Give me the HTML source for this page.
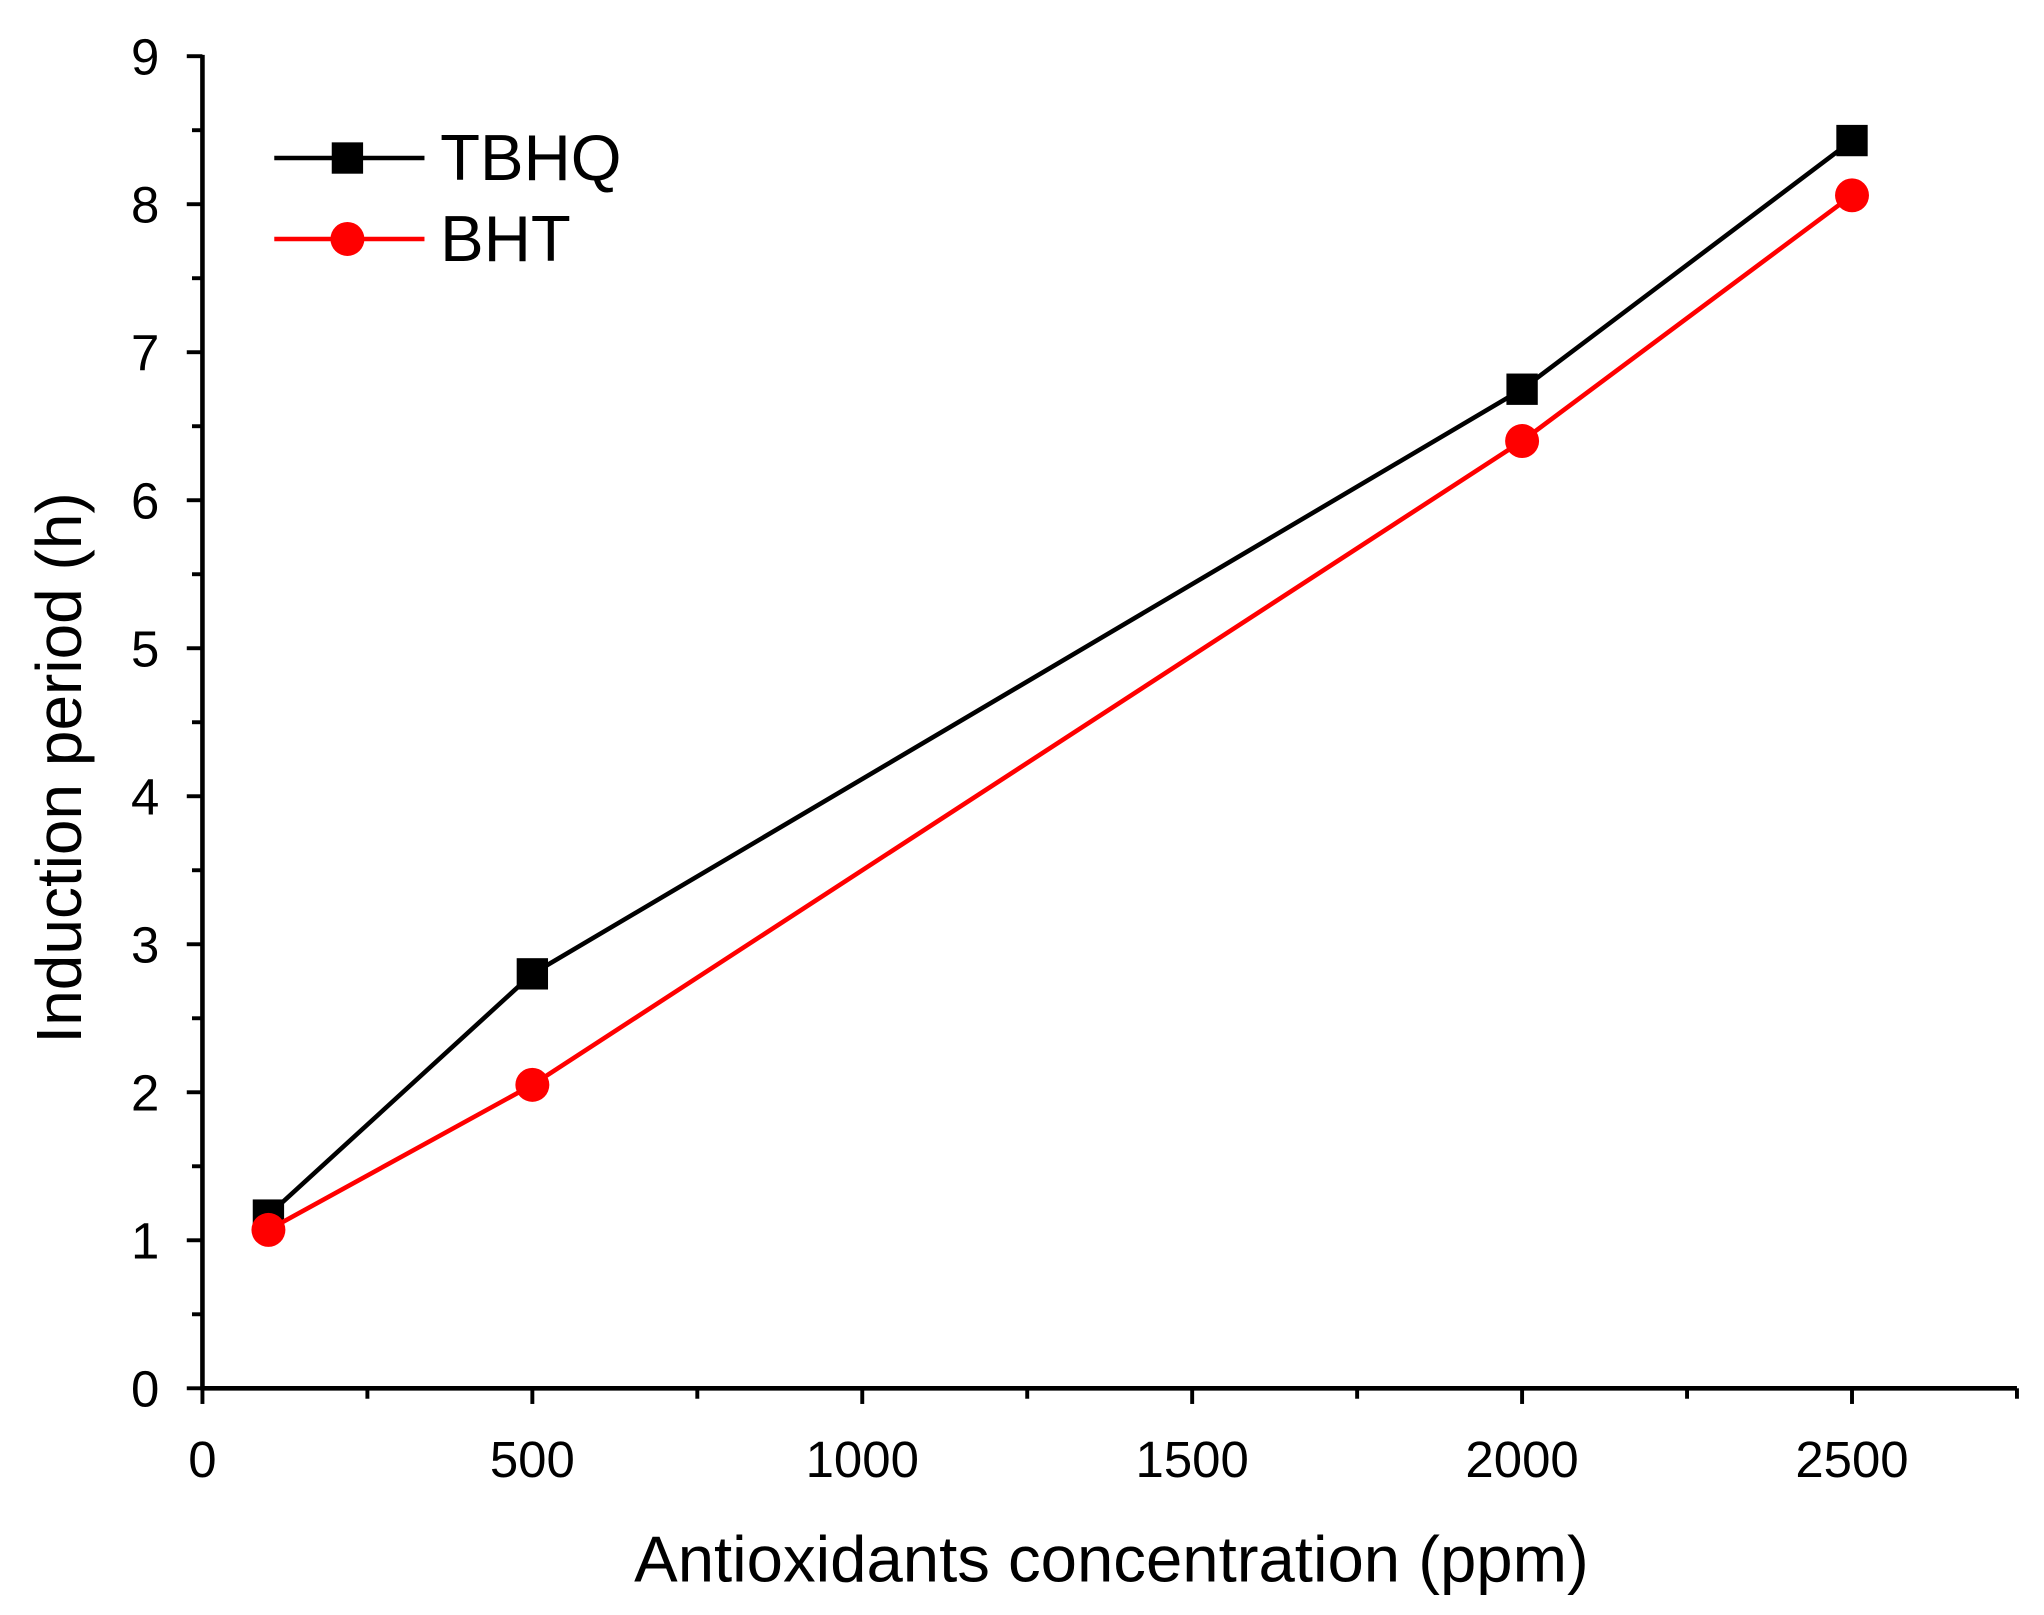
<!DOCTYPE html>
<html><head><meta charset="utf-8"><style>
html,body{margin:0;padding:0;background:#fff}
svg{display:block}
text{font-family:"Liberation Sans",sans-serif;fill:#000}
</style></head><body>
<svg width="2044" height="1615" viewBox="0 0 1565 1236.6" preserveAspectRatio="none" id="chart">
<g id="axes"></g>
<g id="series"></g>
<g>
  <line x1="210" y1="121" x2="325" y2="121" stroke="#000" stroke-width="3.5"/>
  <rect x="254" y="109" width="24" height="24" fill="#000"/>
  <text x="337" y="138" font-size="50">TBHQ</text>
  <line x1="210" y1="183" x2="325" y2="183" stroke="#f00" stroke-width="3.5"/>
  <circle cx="266" cy="183" r="13" fill="#f00"/>
  <text x="337" y="200" font-size="50">BHT</text>
</g>
<text x="851" y="1211" font-size="50" text-anchor="middle">Antioxidants concentration (ppm)</text>
<text transform="translate(62,588) rotate(-90)" font-size="49" text-anchor="middle">Induction period (h)</text>
</svg>
<script>
const xCats = [100, 500, 2000, 2500];
const tbhq = [1.17, 2.8, 6.75, 8.43];
const bht = [1.07, 2.05, 6.4, 8.06];
const xTicks = [0, 500, 1000, 1500, 2000, 2500];
const yTicks = [0,1,2,3,4,5,6,7,8,9];

const NS = "http://www.w3.org/2000/svg";
const X0 = 155, XPER = 252.6/500, Y0 = 1063, YPER = 113.33;
const sx = v => X0 + v * XPER;
const sy = v => Y0 - v * YPER;
function mk(tag, attrs, parent) {
  const e = document.createElementNS(NS, tag);
  for (const k in attrs) e.setAttribute(k, attrs[k]);
  parent.appendChild(e);
  return e;
}
const ax = document.getElementById('axes');
const yAxis = mk('line', {x1: X0, y1: Y0 + 1.5, x2: X0, y2: sy(9) - 1, stroke: '#000', 'stroke-width': 3.5}, ax);


const xAxis = mk('line', {x1: X0 - 1.5, y1: Y0, x2: sx(2750), y2: Y0, stroke: '#000', 'stroke-width': 3.5}, ax);


for (let v = 0; v <= 9; v += 0.5) {
  const major = Number.isInteger(v);
  mk('line', {x1: X0 - (major ? 12 : 8), y1: sy(v), x2: X0, y2: sy(v), stroke: '#000', 'stroke-width': 3}, ax);
}
yTicks.forEach(v => {
  const t = mk('text', {x: X0 - 33, y: sy(v) + 14, 'font-size': 39, 'text-anchor': 'end'}, ax);
  t.textContent = v;
  
  
});
for (let v = 0; v <= 2750; v += 250) {
  const major = v % 500 === 0;
  mk('line', {x1: sx(v), y1: Y0, x2: sx(v), y2: Y0 + (major ? 12 : 8), stroke: '#000', 'stroke-width': 3}, ax);
}
xTicks.forEach(v => {
  const t = mk('text', {x: sx(v), y: Y0 + 68, 'font-size': 39, 'text-anchor': 'middle'}, ax);
  t.textContent = v;
  
  
});
const sg = document.getElementById('series');
function drawSeries(vals, color, marker, name) {
  const pts = xCats.map((c, i) => sx(c) + ',' + sy(vals[i])).join(' ');
  const pl = mk('polyline', {points: pts, fill: 'none', stroke: color, 'stroke-width': 3.5}, sg);
  
  
  xCats.forEach((c, i) => {
    let m;
    if (marker === 'square') m = mk('rect', {x: sx(c) - 12, y: sy(vals[i]) - 12, width: 24, height: 24, fill: color}, sg);
    else m = mk('circle', {cx: sx(c), cy: sy(vals[i]), r: 13, fill: color}, sg);
    
    
  });
}
drawSeries(tbhq, '#000', 'square', 'tbhq');
drawSeries(bht, '#f00', 'circle', 'bht');
</script>
</body></html>
